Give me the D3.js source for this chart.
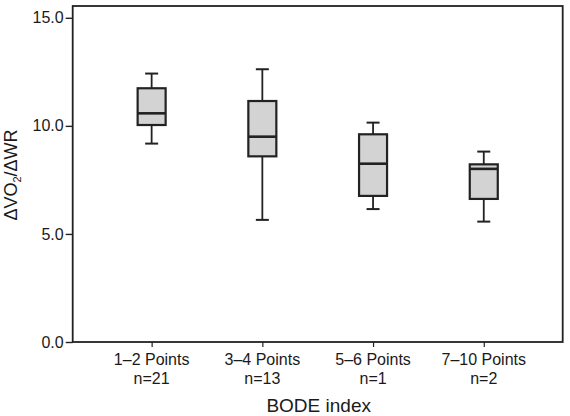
<!DOCTYPE html>
<html>
<head>
<meta charset="utf-8">
<script src="https://cdn.jsdelivr.net/npm/d3@7"></script>
<style>
html,body{margin:0;padding:0;background:#fff;}
svg{display:block;font-family:"Liberation Sans",Arial,Helvetica,sans-serif;}
</style>
</head>
<body>
<svg id="chart" width="570" height="416"></svg>
<script>
const categories = ["1\u20132 Points", "3\u20134 Points", "5\u20136 Points", "7\u201310 Points"];
const sampleSizes = ["n=21", "n=13", "n=1", "n=2"];
const whiskerLow = [9.18, 5.65, 6.15, 5.57];
const q1 = [10.04, 8.59, 6.76, 6.62];
const median = [10.58, 9.50, 8.25, 8.01];
const q3 = [11.74, 11.15, 9.61, 8.22];
const whiskerHigh = [12.42, 12.62, 10.15, 8.81];
const yTicks = [0, 5, 10, 15];

(function () {
const svg = d3.select("#chart");
const mLeft = 72.7, mRight = 562.7, mTop = 6, mBottom = 342;

const x = d3.scalePoint().domain(categories).range([mLeft, mRight]).padding(0.713);
const y = d3.scaleLinear().domain([0, 15]).range([mBottom, 17.8]);

// frame
svg.append("rect").attr("x", mLeft).attr("y", mTop).attr("width", mRight - mLeft).attr("height", mBottom - mTop)
  .attr("fill", "none").attr("stroke", "#222").attr("stroke-width", 1.8);

// y axis
const yAxis = svg.append("g").attr("transform", `translate(${mLeft},0)`)
  .call(d3.axisLeft(y).tickValues(yTicks).tickFormat(d3.format(".1f")).tickSize(7).tickPadding(2));
yAxis.select(".domain").remove();
yAxis.selectAll("line").attr("stroke", "#222").attr("stroke-width", 1.4);
yAxis.selectAll("text").attr("font-size", 16).attr("fill", "#1a1a1a").attr("font-family", "Liberation Sans, Arial, sans-serif");

// x axis
const xAxis = svg.append("g").attr("transform", `translate(0,${mBottom})`)
  .call(d3.axisBottom(x).tickSize(5).tickFormat(""));
xAxis.select(".domain").remove();
xAxis.selectAll("line").attr("stroke", "#222").attr("stroke-width", 1.2);

const lab = svg.append("g").attr("font-size", 16).attr("fill", "#1a1a1a").attr("text-anchor", "middle");
categories.forEach((c, i) => {
  lab.append("text").attr("x", x(c)).attr("y", 364.5).text(c);
  lab.append("text").attr("x", x(c)).attr("y", 383.5).text(sampleSizes[i]);
});

svg.append("text").attr("x", (mLeft + mRight) / 2 + 1).attr("y", 412).attr("text-anchor", "middle")
  .attr("font-size", 19).attr("fill", "#1a1a1a").text("BODE index");

// y title
const yt = svg.append("text").attr("transform", `translate(17,175) rotate(-90)`).attr("text-anchor", "middle")
  .attr("font-size", 18).attr("fill", "#1a1a1a");
yt.append("tspan").text("\u0394VO");
yt.append("tspan").attr("font-size", 11).attr("dy", 4).text("2");
yt.append("tspan").attr("dy", -4).text("/\u0394WR");

// boxes
const boxW = 28, capW = 13;
const g = svg.append("g");
categories.forEach((c, i) => {
  const cx = x(c);
  g.append("line").attr("x1", cx).attr("x2", cx).attr("y1", y(whiskerHigh[i])).attr("y2", y(q3[i]))
    .attr("stroke", "#222").attr("stroke-width", 1.8);
  g.append("line").attr("x1", cx).attr("x2", cx).attr("y1", y(q1[i])).attr("y2", y(whiskerLow[i]))
    .attr("stroke", "#222").attr("stroke-width", 1.8);
  [whiskerHigh[i], whiskerLow[i]].forEach(v => {
    g.append("line").attr("x1", cx - capW / 2).attr("x2", cx + capW / 2).attr("y1", y(v)).attr("y2", y(v))
      .attr("stroke", "#222").attr("stroke-width", 2);
  });
  g.append("rect").attr("x", cx - boxW / 2).attr("y", y(q3[i])).attr("width", boxW).attr("height", y(q1[i]) - y(q3[i]))
    .attr("fill", "#d3d3d3").attr("stroke", "#222").attr("stroke-width", 2.2);
  g.append("line").attr("x1", cx - boxW / 2).attr("x2", cx + boxW / 2).attr("y1", y(median[i])).attr("y2", y(median[i]))
    .attr("stroke", "#222").attr("stroke-width", 2.6);
});
})();
</script>
</body>
</html>
